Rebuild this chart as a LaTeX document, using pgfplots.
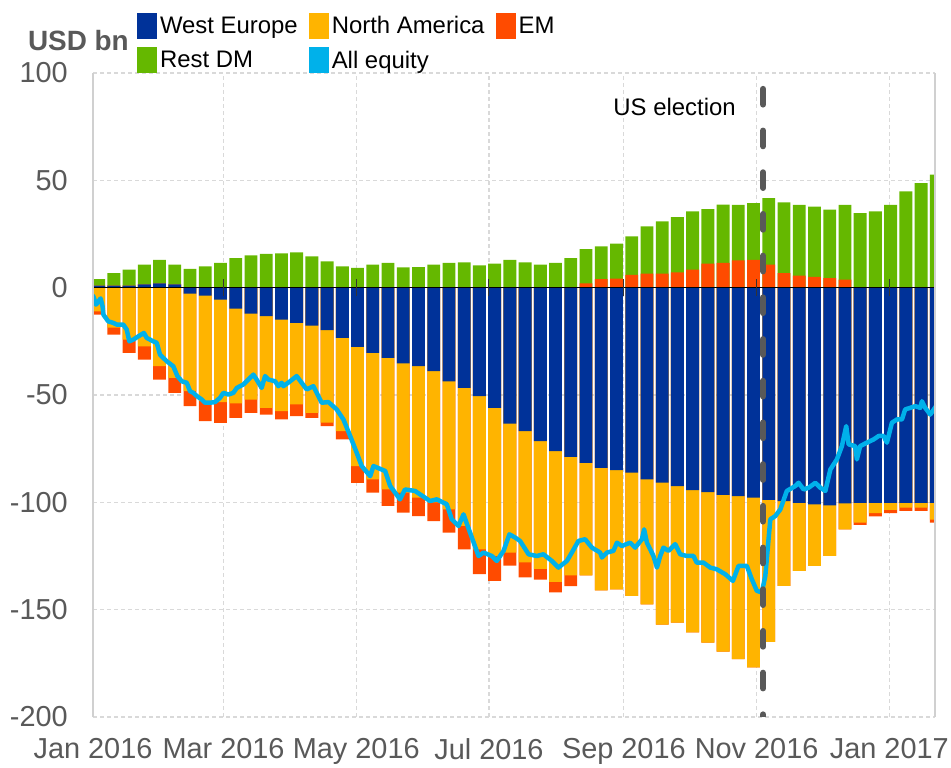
\documentclass[border=0pt]{standalone}
\usepackage{fontspec}
\setmainfont{Liberation Sans}
\usepackage{pgfplots}
\pgfplotsset{compat=1.18}
\usepackage{pgfplotstable}
\definecolor{wblue}{HTML}{003299}
\definecolor{nayel}{HTML}{FFB400}
\definecolor{emred}{HTML}{FF4B00}
\definecolor{dmgreen}{HTML}{65B800}
\definecolor{allcyan}{HTML}{00B1EA}
\definecolor{txtgrey}{HTML}{595959}
\definecolor{gridgrey}{HTML}{D9D9D9}
\definecolor{bordergrey}{HTML}{D0D0D0}

% weekly flows (USD bn): West Europe, North America, EM, Rest DM
\pgfplotstableread{
x we na em dm
2.6 1.0 -11.0 -1.6 3.0
9.6 1.0 -18.6 -3.3 5.8
16.6 1.0 -24.2 -6.2 7.4
23.6 1.5 -27.3 -6.2 9.2
30.6 2.0 -36.6 -6.2 11.0
37.6 1.5 -42.0 -7.0 9.2
44.6 -2.8 -45.4 -7.0 8.7
51.6 -3.7 -49.2 -9.3 9.9
58.6 -5.6 -47.7 -9.7 11.5
65.6 -9.8 -44.1 -6.7 13.8
72.6 -12.1 -40.0 -6.2 15.0
79.6 -13.3 -42.7 -3.1 15.7
86.6 -14.9 -42.6 -3.9 16.0
93.6 -16.4 -38.0 -5.4 16.4
100.6 -17.7 -40.6 -2.3 14.6
107.6 -19.8 -43.1 -1.6 12.2
114.6 -23.4 -43.4 -3.9 9.9
121.6 -27.6 -55.5 -7.8 9.2
128.6 -30.4 -58.9 -6.2 10.7
135.6 -32.7 -61.3 -7.7 11.5
142.6 -35.3 -60.2 -9.3 9.4
149.6 -36.6 -61.2 -8.6 9.6
156.6 -38.9 -61.1 -8.7 10.7
163.6 -43.6 -59.7 -10.8 11.5
170.6 -46.7 -64.3 -10.9 11.8
177.6 -50.5 -71.4 -11.6 10.4
184.6 -56.0 -69.0 -11.6 11.2
191.6 -63.3 -60.1 -6.1 13.0
198.6 -66.8 -61.2 -7.0 11.8
205.6 -71.5 -59.5 -5.0 10.7
212.6 -76.1 -60.9 -5.0 11.5
219.6 -78.8 -55.2 -5.0 13.8
226.6 -81.6 -52.4 2.0 16.0
233.6 -83.9 -57.1 4.0 15.2
240.6 -85.0 -55.5 4.2 16.3
247.6 -86.2 -57.4 6.0 17.9
254.6 -89.3 -58.2 6.5 22.0
261.6 -90.8 -66.2 6.5 24.4
268.6 -92.5 -63.5 7.1 25.8
275.6 -94.3 -66.3 8.4 27.1
282.6 -95.2 -70.1 11.2 25.4
289.6 -96.5 -73.0 11.6 27.1
296.6 -97.1 -75.9 12.7 25.9
303.6 -97.8 -79.1 13.0 26.4
310.6 -98.9 -66.1 10.7 31.0
317.6 -99.4 -39.5 6.8 32.9
324.6 -100.2 -31.7 5.6 33.0
331.6 -100.9 -28.7 5.0 32.8
338.6 -101.4 -23.6 4.5 31.8
345.6 -100.5 -12.1 3.7 34.9
352.6 -100.2 -9.3 -1.0 34.7
359.6 -100.2 -4.8 -1.5 35.5
366.6 -100.2 -3.3 -1.5 38.6
373.6 -100.2 -2.3 -1.5 44.8
380.6 -100.2 -2.3 -1.5 48.7
387.6 -100.2 -7.8 -1.5 52.6
}\flows

% all equity (days since 1 Jan 2016)
\pgfplotstableread{
d v
0.15 -4.0
1.4 -7.9
2.5 -6.4
3.5 -5.0
4.4 -8.7
4.8 -12.6
7.0 -15.7
9.3 -16.4
10.9 -17.2
13.9 -17.2
15.5 -19.5
16.7 -25.0
18.5 -24.2
20.8 -22.7
23.4 -21.1
24.7 -23.4
27.7 -25.0
29.3 -25.7
30.8 -31.2
33.9 -34.3
36.9 -36.6
38.8 -41.2
40.8 -43.6
43.1 -44.3
44.6 -48.2
46.1 -49.0
47.7 -50.5
50.0 -52.1
51.5 -53.6
53.8 -53.6
56.1 -53.3
58.4 -51.3
59.9 -49.0
62.2 -49.8
64.5 -49.0
66.1 -46.7
69.1 -45.1
71.4 -42.8
73.7 -40.5
75.2 -42.8
77.5 -46.7
79.1 -41.2
80.6 -42.8
83.7 -43.6
85.2 -45.9
86.7 -44.3
87.5 -45.9
90.6 -43.6
93.6 -41.2
95.9 -44.3
98.2 -47.4
101.3 -45.9
105.1 -53.6
108.2 -53.3
112.0 -56.7
115.1 -61.4
118.2 -69.1
121.2 -76.9
123.5 -83.1
127.4 -87.8
128.9 -83.1
134.3 -85.4
136.6 -92.4
141.1 -98.6
143.4 -94.0
148.0 -94.7
154.9 -99.4
158.0 -98.6
162.6 -100.9
164.9 -107.9
168.0 -111.0
170.3 -105.6
173.3 -114.1
177.2 -125.0
179.5 -123.4
183.3 -125.0
185.6 -127.3
188.7 -122.6
191.4 -114.9
194.0 -116.4
196.3 -118.0
200.2 -124.2
204.0 -125.0
207.0 -124.2
210.9 -127.3
213.9 -130.4
217.8 -127.3
220.1 -123.4
223.1 -118.0
226.2 -117.2
229.3 -121.1
233.1 -123.4
233.9 -125.7
236.2 -123.4
239.2 -122.6
240.8 -118.8
243.1 -120.3
246.9 -118.8
249.2 -121.1
252.3 -117.2
253.3 -112.6
254.6 -118.8
257.6 -125.0
259.2 -130.4
260.7 -125.0
262.2 -121.1
264.5 -122.6
267.6 -119.5
269.9 -124.2
272.9 -125.0
276.0 -125.0
277.5 -128.1
280.6 -128.1
283.7 -130.4
286.7 -131.2
290.6 -133.5
294.1 -136.6
296.7 -129.6
300.5 -129.6
302.8 -135.8
305.1 -141.2
307.4 -142.0
309.0 -134.3
311.3 -107.9
313.6 -106.4
315.9 -103.3
318.9 -94.7
322.8 -92.4
324.3 -90.9
326.6 -94.0
328.9 -93.2
332.0 -90.9
334.3 -93.2
336.6 -94.7
338.9 -84.7
341.9 -80.0
344.2 -73.8
346.2 -64.5
347.3 -73.0
350.3 -73.8
351.1 -80.0
352.6 -73.8
355.7 -72.2
358.8 -70.7
361.1 -69.1
363.4 -69.1
364.9 -72.2
367.2 -62.9
369.5 -61.4
371.8 -61.4
373.3 -56.7
375.6 -56.0
377.9 -55.2
380.2 -56.0
381.0 -52.9
382.5 -56.0
384.8 -59.1
387.5 -55.2
}\allequity

\begin{document}
\begin{tikzpicture}
\useasboundingbox (0,0) rectangle (951bp,768bp);
\begin{axis}[
  name=ax,
  at={(93bp,51bp)}, anchor=south west,
  scale only axis, width=842bp, height=644bp,
  xmin=0, xmax=387, ymin=-200, ymax=100,
  xtick={0,60,121,182,244,305,366},
  xticklabels={Jan 2016,Mar 2016,May 2016,Jul 2016,Sep 2016,Nov 2016,Jan 2017},
  ytick={-200,-150,-100,-50,0,50,100},
  yticklabels={-200,-150,-100,-50,0,50,100},
  major tick length=0pt,
  axis line style={draw=none},
  grid=major,
  major grid style={gridgrey, line width=1.2bp, dash pattern=on 4bp off 3bp},
  ticklabel style={font=\fontsize{29}{34}\selectfont, text=txtgrey, inner sep=0pt},
  xticklabel style={yshift=-21bp},
  yticklabel style={xshift=-25bp},
  legend columns=3,
  legend cell align=left,
  legend style={at={(0.05226,1.09317)}, anchor=north west, draw=none, fill=none,
    inner sep=0pt, outer sep=0pt, row sep=8.5bp, column sep=0pt,
    font=\fontsize{24}{28}\selectfont,
    nodes={inner xsep=3bp, inner ysep=0pt},
    /tikz/every even column/.append style={column sep=8bp}},
  legend image code/.code={\fill[#1] (0bp,-13bp) rectangle (20bp,13bp);},
]
\addlegendimage{fill=wblue, draw=none}\addlegendentry{West Europe}
\addlegendimage{fill=nayel, draw=none}\addlegendentry{North America}
\addlegendimage{fill=emred, draw=none}\addlegendentry{EM}
\addlegendimage{fill=dmgreen, draw=none}\addlegendentry{Rest DM}
\addlegendimage{fill=allcyan, draw=none}\addlegendentry{All equity}

% negative side (outermost first)
\addplot[ybar, bar width=5.9, bar shift=0pt, fill=emred, draw=none, forget plot]
  table[x=x, y expr={min(\thisrow{we},0)+min(\thisrow{na},0)+min(\thisrow{em},0)}] {\flows};
\addplot[ybar, bar width=5.9, bar shift=0pt, fill=nayel, draw=none, forget plot]
  table[x=x, y expr={min(\thisrow{we},0)+min(\thisrow{na},0)}] {\flows};
\addplot[ybar, bar width=5.9, bar shift=0pt, fill=wblue, draw=none, forget plot]
  table[x=x, y expr={min(\thisrow{we},0)}] {\flows};
% positive side
\addplot[ybar, bar width=5.9, bar shift=0pt, fill=dmgreen, draw=none, forget plot]
  table[x=x, y expr={max(\thisrow{we},0)+max(\thisrow{na},0)+max(\thisrow{em},0)+\thisrow{dm}}] {\flows};
\addplot[ybar, bar width=5.9, bar shift=0pt, fill=emred, draw=none, forget plot]
  table[x=x, y expr={max(\thisrow{we},0)+max(\thisrow{na},0)+max(\thisrow{em},0)}] {\flows};
\addplot[ybar, bar width=5.9, bar shift=0pt, fill=nayel, draw=none, forget plot]
  table[x=x, y expr={max(\thisrow{we},0)+max(\thisrow{na},0)}] {\flows};
\addplot[ybar, bar width=5.9, bar shift=0pt, fill=wblue, draw=none, forget plot]
  table[x=x, y expr={max(\thisrow{we},0)}] {\flows};

\draw[black, line width=1.4bp] (axis cs:0,0) -- (axis cs:387,0);
\pgfplotsinvokeforeach{0,60,121,182,244,305,366}{
  \draw[black!80, line width=1bp] (axis cs:#1,-3.9) -- (axis cs:#1,3.9);
}

\addplot[allcyan, line width=4.5bp, line join=round, line cap=round, forget plot]
  table[x=d, y=v] {\allequity};

\draw[txtgrey, line width=6bp, line cap=round, dash pattern=on 15.7bp off 26bp]
  (axis cs:308,92.6) -- (axis cs:308,-200);
\node[anchor=east, font=\fontsize{24}{28}\selectfont, inner sep=0pt] at (axis cs:295.5,84.2) {US election};
\end{axis}
\draw[bordergrey, line width=2.3bp] (ax.south west) -- (ax.north west);
\draw[bordergrey, line width=2.3bp] (ax.south east) -- (ax.north east);
\node[anchor=east, font=\bfseries\fontsize{28}{32}\selectfont, text=txtgrey, inner sep=0pt] at (129bp,727bp) {USD bn};
\end{tikzpicture}
\end{document}
